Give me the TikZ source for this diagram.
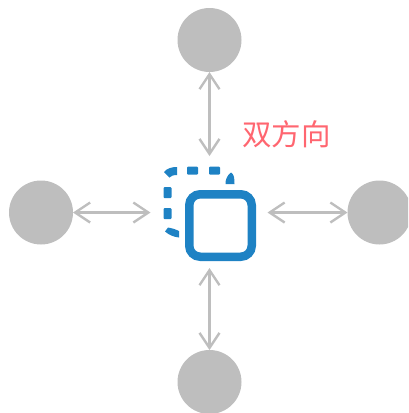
\documentclass[tikz,border=0pt]{standalone}
\usepackage{fontspec}
\newfontfamily\cjkfont{Noto Sans CJK SC}
\usetikzlibrary{arrows.meta}
\definecolor{peer}{HTML}{BEBEBE}
\definecolor{iconblue}{HTML}{1E82C4}
\definecolor{labelred}{HTML}{FF6670}
\tikzset{
  peernode/.style={circle,fill=peer,draw=none,minimum size=64pt,inner sep=0pt,outer sep=0pt},
  link/.style={draw=peer,line width=2.4pt,{Straight Barb[length=15pt,width=20pt,line width=2.4pt]}-{Straight Barb[length=15pt,width=20pt,line width=2.4pt]}},
  dashpart/.style={fill=iconblue,draw=none},
}
\begin{document}
\begin{tikzpicture}[x=1pt,y=-1pt]
\useasboundingbox (0,0) rectangle (408,413);
\clip (0,0) rectangle (408,413);
\node[peernode] (top) at (209.5,40) {};
\node[peernode] (left) at (41,212.5) {};
\node[peernode] (right) at (379.5,212.5) {};
\node[peernode] (bottom) at (209.5,382) {};
\node[draw=none,minimum width=117pt,minimum height=112pt,inner sep=0pt,outer sep=0pt] (hub) at (209,212) {};
\draw[link] (top) -- (hub.north -| top);
\draw[link] (bottom) -- (hub.south -| bottom);
\draw[link] (left) -- (hub.west |- left);
\draw[link] (right) -- (hub.east |- right);
\node[draw=iconblue,line width=8.5pt,rounded corners=11pt,minimum width=62.5pt,minimum height=62.5pt,inner sep=0pt,outer sep=0pt] (front) at (220.5,225.5) {};
\fill[dashpart,rounded corners=1pt] (187,166.5) rectangle (198,174.5);
\fill[dashpart,rounded corners=1pt] (209,166.5) rectangle (220,174.5);
\fill[dashpart,rounded corners=1pt] (163.5,187) rectangle (171.5,198);
\fill[dashpart,rounded corners=1pt] (163.5,208) rectangle (171.5,219);
\fill[dashpart] (164,172) .. controls (167,168.5) and (171,167) .. (177,167) -- (177,175) .. controls (173,175) and (171,176) .. (169.5,177.5) -- cycle;
\fill[dashpart] (168,227.5) .. controls (171,228) and (175,229) .. (179,231) -- (179,237.5) .. controls (174,237) and (169,235) .. (165,231.5) -- cycle;
\fill[dashpart] (225.5,184) .. controls (225.5,180) and (226.5,176) .. (231,172.5) .. controls (234,174) and (234.5,178) .. (234.5,184) -- cycle;
\node[text=labelred,font=\cjkfont\fontsize{29.5pt}{29.5pt}\selectfont,inner sep=0pt,anchor=center] (label) at (286.5,134) {双方向};
\end{tikzpicture}
\end{document}
